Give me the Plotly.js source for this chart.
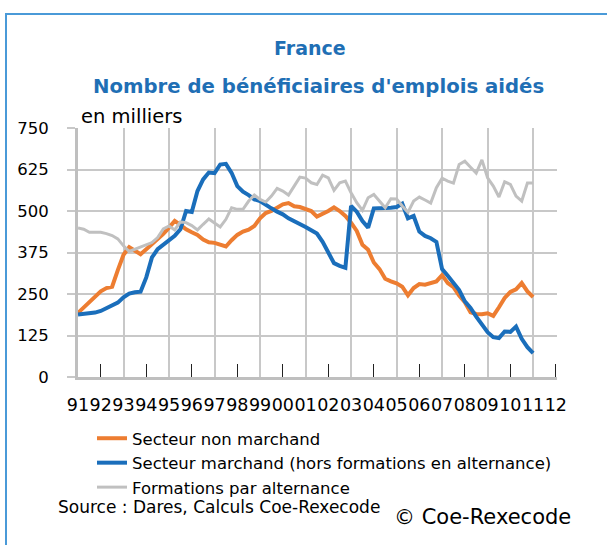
<!DOCTYPE html>
<html>
<head>
<meta charset="utf-8">
<script src="https://cdn.plot.ly/plotly-3.0.1.min.js"></script>
<style>html,body{margin:0;padding:0;background:#fff;}#chart{width:607px;height:545px;}</style>
</head>
<body>
<div id="chart"></div>
<script>
// Quarterly observations, 1991 Q1 -> 2011 Q1 (thousands)
const startYear = 1991;
const nonMarchand = [
  193, 210, 225, 243, 258, 268, 272, 322, 368, 391,
  381, 370, 385, 400, 412, 431, 450, 470, 458, 445,
  436, 428, 414, 406, 404, 400, 393, 412, 428, 438,
  444, 455, 478, 494, 500, 510, 520, 524, 514, 512,
  505, 500, 483, 490, 500, 511, 500, 485, 465, 440,
  398, 383, 345, 325, 296, 288, 282, 272, 246, 268,
  280, 278, 283, 288, 307, 283, 271, 245, 225, 195,
  190, 189, 192, 184, 210, 238, 256, 264, 283, 258,
  241
];
const marchand = [
  188, 189, 191, 194, 199, 207, 215, 224, 240, 251,
  255, 257, 300, 360, 385, 398, 412, 425, 445, 500,
  497, 560, 595, 616, 614, 640, 642, 615, 575, 558,
  548, 535, 530, 518, 508, 498, 490, 478, 470, 462,
  452, 442, 432, 407, 376, 343, 335, 329, 515, 498,
  470, 450, 508, 510, 509, 510, 512, 522, 478, 485,
  438, 425, 418, 407, 325, 305, 285, 262, 228, 208,
  182, 160, 135, 120, 117, 137, 136, 152, 115, 90,
  72
];
const alternance = [
  449, 445, 436, 436, 436, 432, 426, 416, 395, 378,
  385, 393, 400, 405, 420, 446, 455, 443, 467, 465,
  456, 443, 460, 476, 464, 452, 475, 510, 505, 505,
  530, 548, 535, 527, 545, 568, 560, 548, 575, 602,
  599, 585, 580, 608, 600, 562, 585, 590, 555, 525,
  502, 540, 550, 530, 510, 537, 536, 515, 496, 530,
  542, 533, 524, 570, 599, 590, 584, 640, 650, 632,
  614, 654, 600, 575, 542, 588, 580, 545, 530, 584,
  584
];
const tickYears = [1991,1992,1993,1994,1995,1996,1997,1998,1999,2000,2001,2002,2003,2004,2005,2006,2007,2008,2009,2010,2011,2012];
const tickLabels = ['91','92','93','94','95','96','97','98','99','00','01','02','03','04','05','06','07','08','09','10','11','12'];
const seriesNames = ['Secteur non marchand','Secteur marchand (hors formations en alternance)','Formations par alternance'];
const yTicks = [0,125,250,375,500,625,750];

const xq = nonMarchand.map((_, i) => startYear + i / 4);

const FONT = '"DejaVu Sans", "Noto Sans", sans-serif';
const W = 607, H = 545, L = 78, R = 50, T = 128, B = 168;
const pw = W - L - R, ph = H - T - B;
const px = v => (v - L) / pw;
const py = v => (H - B - v) / ph;

const traces = [
  {x: xq, y: nonMarchand, name: seriesNames[0], type: 'scatter', mode: 'lines',
   line: {color: '#ED7D31', width: 4}},
  {x: xq, y: marchand, name: seriesNames[1], type: 'scatter', mode: 'lines',
   line: {color: '#1A6EBB', width: 4}},
  {x: xq, y: alternance, name: seriesNames[2], type: 'scatter', mode: 'lines',
   xaxis: 'x2', line: {color: '#C0C0C0', width: 3}}
];

const xr = [1991, 2012.05];
const layout = {
  width: W, height: H,
  margin: {l: L, r: R, t: T, b: B, autoexpand: false},
  paper_bgcolor: '#ffffff', plot_bgcolor: '#ffffff',
  font: {family: FONT, color: '#000', size: 16},
  showlegend: true,
  legend: {
    x: px(92), y: py(421), xanchor: 'left', yanchor: 'top',
    font: {family: FONT, size: 16.5, color: '#000'},
    bgcolor: 'rgba(0,0,0,0)', tracegroupgap: 0, traceorder: 'normal'
  },
  xaxis: {
    range: xr, tickmode: 'array', tickvals: tickYears, ticktext: tickLabels,
    tickangle: 0, showgrid: false, zeroline: false, ticks: '',
    ticklabelstandoff: 10,
    tickfont: {family: FONT, size: 17.5, color: '#000'},
    showline: true, linecolor: '#BFBFBF', linewidth: 3
  },
  xaxis2: {
    overlaying: 'x', anchor: 'y', range: xr, tickmode: 'linear', tick0: 1991, dtick: 2,
    showgrid: true, gridcolor: '#C8C8C8', gridwidth: 2, showticklabels: false,
    ticks: '', zeroline: false, showline: false,
    minor: {tickmode: 'linear', tick0: 1992, dtick: 2, ticks: 'inside', ticklen: 13,
            tickcolor: '#222', tickwidth: 1, showgrid: false}
  },
  yaxis: {
    range: [0, 750], tickmode: 'array', tickvals: yTicks,
    showgrid: true, gridcolor: '#C8C8C8', gridwidth: 2,
    ticks: 'outside', ticklen: 8, tickcolor: '#C8C8C8', tickwidth: 2,
    ticklabelstandoff: 15,
    tickfont: {family: FONT, size: 16.5, color: '#000'},
    showline: true, linecolor: '#BFBFBF', linewidth: 3, zeroline: false
  },
  shapes: [
    {type: 'rect', xref: 'paper', yref: 'paper',
     x0: px(6), x1: px(640), y0: py(600), y1: py(14),
     line: {color: '#4A9AD8', width: 2}, fillcolor: 'rgba(0,0,0,0)', layer: 'below'}
  ],
  annotations: [
    {text: '<b>France</b>', xref: 'paper', yref: 'paper', x: px(310), y: py(48),
     xanchor: 'center', yanchor: 'middle', showarrow: false,
     font: {family: FONT, size: 19, color: '#1F6FB5'}},
    {text: "<b>Nombre de bénéficiaires d'emplois aidés</b>", xref: 'paper', yref: 'paper',
     x: px(318), y: py(87), xanchor: 'center', yanchor: 'middle', showarrow: false,
     font: {family: FONT, size: 19.7, color: '#1F6FB5'}},
    {text: 'en milliers', xref: 'paper', yref: 'paper', x: px(79), y: py(117),
     xanchor: 'left', yanchor: 'middle', showarrow: false,
     font: {family: FONT, size: 19.5, color: '#000'}},
    {text: 'Source : Dares, Calculs Coe-Rexecode', xref: 'paper', yref: 'paper',
     x: px(56), y: py(507), xanchor: 'left', yanchor: 'middle', showarrow: false,
     font: {family: FONT, size: 17, color: '#000'}},
    {text: '© Coe-Rexecode', xref: 'paper', yref: 'paper',
     x: px(392), y: py(517), xanchor: 'left', yanchor: 'middle', showarrow: false,
     font: {family: FONT, size: 21, color: '#000'}}
  ]
};

Plotly.newPlot('chart', traces, layout, {displayModeBar: false, staticPlot: true});
</script>
</body>
</html>
